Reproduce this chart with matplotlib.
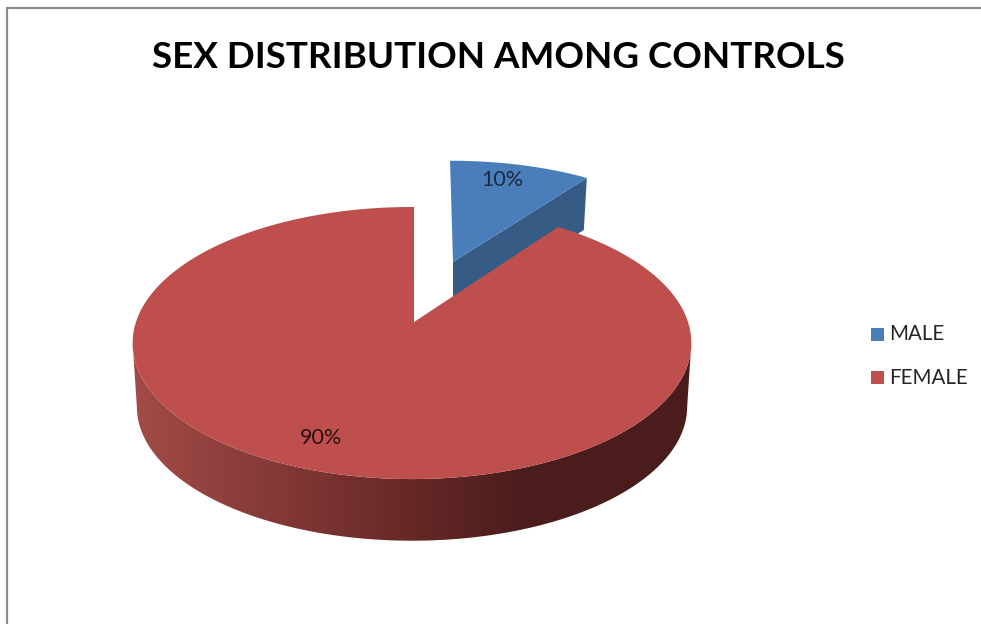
import numpy as np
import matplotlib
matplotlib.use('Agg')
import matplotlib.pyplot as plt
from matplotlib.patches import Polygon, Rectangle
from matplotlib.colors import LinearSegmentedColormap

# data
labels = ['MALE', 'FEMALE']
values = [10, 90]
title = 'SEX DISTRIBUTION AMONG CONTROLS'

BLUE = '#4a7ebb'
BLUE_SIDE = '#365c86'
RED = '#be4f4c'
TEXT = '#262626'


def project(ang, x0, y0, sx=1.0, sy=1.0, k=0.1545):
    # fake 3d pie: angle clockwise from top, with a bit of perspective
    s = np.sin(np.radians(ang))
    c = np.cos(np.radians(ang))
    d = 1 + k * c
    return x0 + 276 * sx * s / d, y0 - 132.8 * sy * c / d


fig = plt.figure(figsize=(9.81, 6.24), dpi=100)
ax = fig.add_axes([0, 0, 1, 1])
ax.set_xlim(0, 981)
ax.set_ylim(624, 0)
ax.axis('off')

# outer frame of the chart
ax.plot([7, 7, 981], [624, 8, 8], color='#8c8c8c', lw=1.6, solid_joinstyle='miter')

ax.text(498.5, 58, title, fontsize=26.5, family='Lato', weight='bold', color='black', ha='center', va='center')

split = 360 * values[0] / sum(values)

# male slice, pulled out of the pie
bx, by, bdepth = 453, 262, 52
a = np.linspace(-0.5, split, 40)
x, y = project(a, bx - 1, by, 0.935, 0.88)
xs = np.r_[bx, x[-1], x[-1] - 3, bx]
ys = np.r_[by, y[-1], y[-1] + bdepth, by + bdepth]
ax.add_patch(Polygon(np.c_[xs, ys], fc=BLUE_SIDE, ec='none', zorder=2))
ax.add_patch(Polygon(np.c_[np.r_[bx, x], np.r_[by, y]], fc=BLUE, ec='none', zorder=3))

# female slice, side wall first
cx, cy, depth = 414, 322, 64
a = np.linspace(98.9, 261.1, 200)
x, y = project(a, cx - 2, cy)
x2, y2 = project(a, cx - 2, cy + depth, 0.985, 0.985)
wall = Polygon(np.c_[np.r_[x, x2[::-1]], np.r_[y, y2[::-1]]], fc='none', ec='none', zorder=4)
ax.add_patch(wall)
cmap = LinearSegmentedColormap.from_list('wall', [(0, '#4a1d1c'), (0.3, '#4a1d1c'), (0.5, '#662826'), (1, '#a34b48')])
grad = np.linspace(1, 0, 256).reshape(1, -1)
im = ax.imshow(grad, cmap=cmap, vmin=0, vmax=1, extent=[132, 692, 560, 300], aspect='auto', zorder=4)
im.set_clip_path(wall)
ax.set_xlim(0, 981)
ax.set_ylim(624, 0)

a = np.linspace(split + 0.5, 360.5, 300)
x, y = project(a, cx - 2, cy)
ax.add_patch(Polygon(np.c_[np.r_[cx, x], np.r_[cy, y]], fc=RED, ec='none', zorder=5))

# slice labels
ax.text(502, 180, f'{values[0]}%', fontsize=15.5, family='Lato', color='#1a2a3a', ha='center', va='center', zorder=6)
ax.text(321, 438, f'{values[1]}%', fontsize=15.5, family='Lato', color='#2a1212', ha='center', va='center', zorder=6)

# legend
for name, col, ly in zip(labels, [BLUE, RED], [334, 377.5]):
    ax.add_patch(Rectangle((870.5, ly - 6.5), 13.5, 13, fc=col, ec='none'))
    ax.text(889.5, ly, name, fontsize=14.8, family='Lato', color=TEXT, ha='left', va='center')

fig.savefig('out.png', dpi=100)
